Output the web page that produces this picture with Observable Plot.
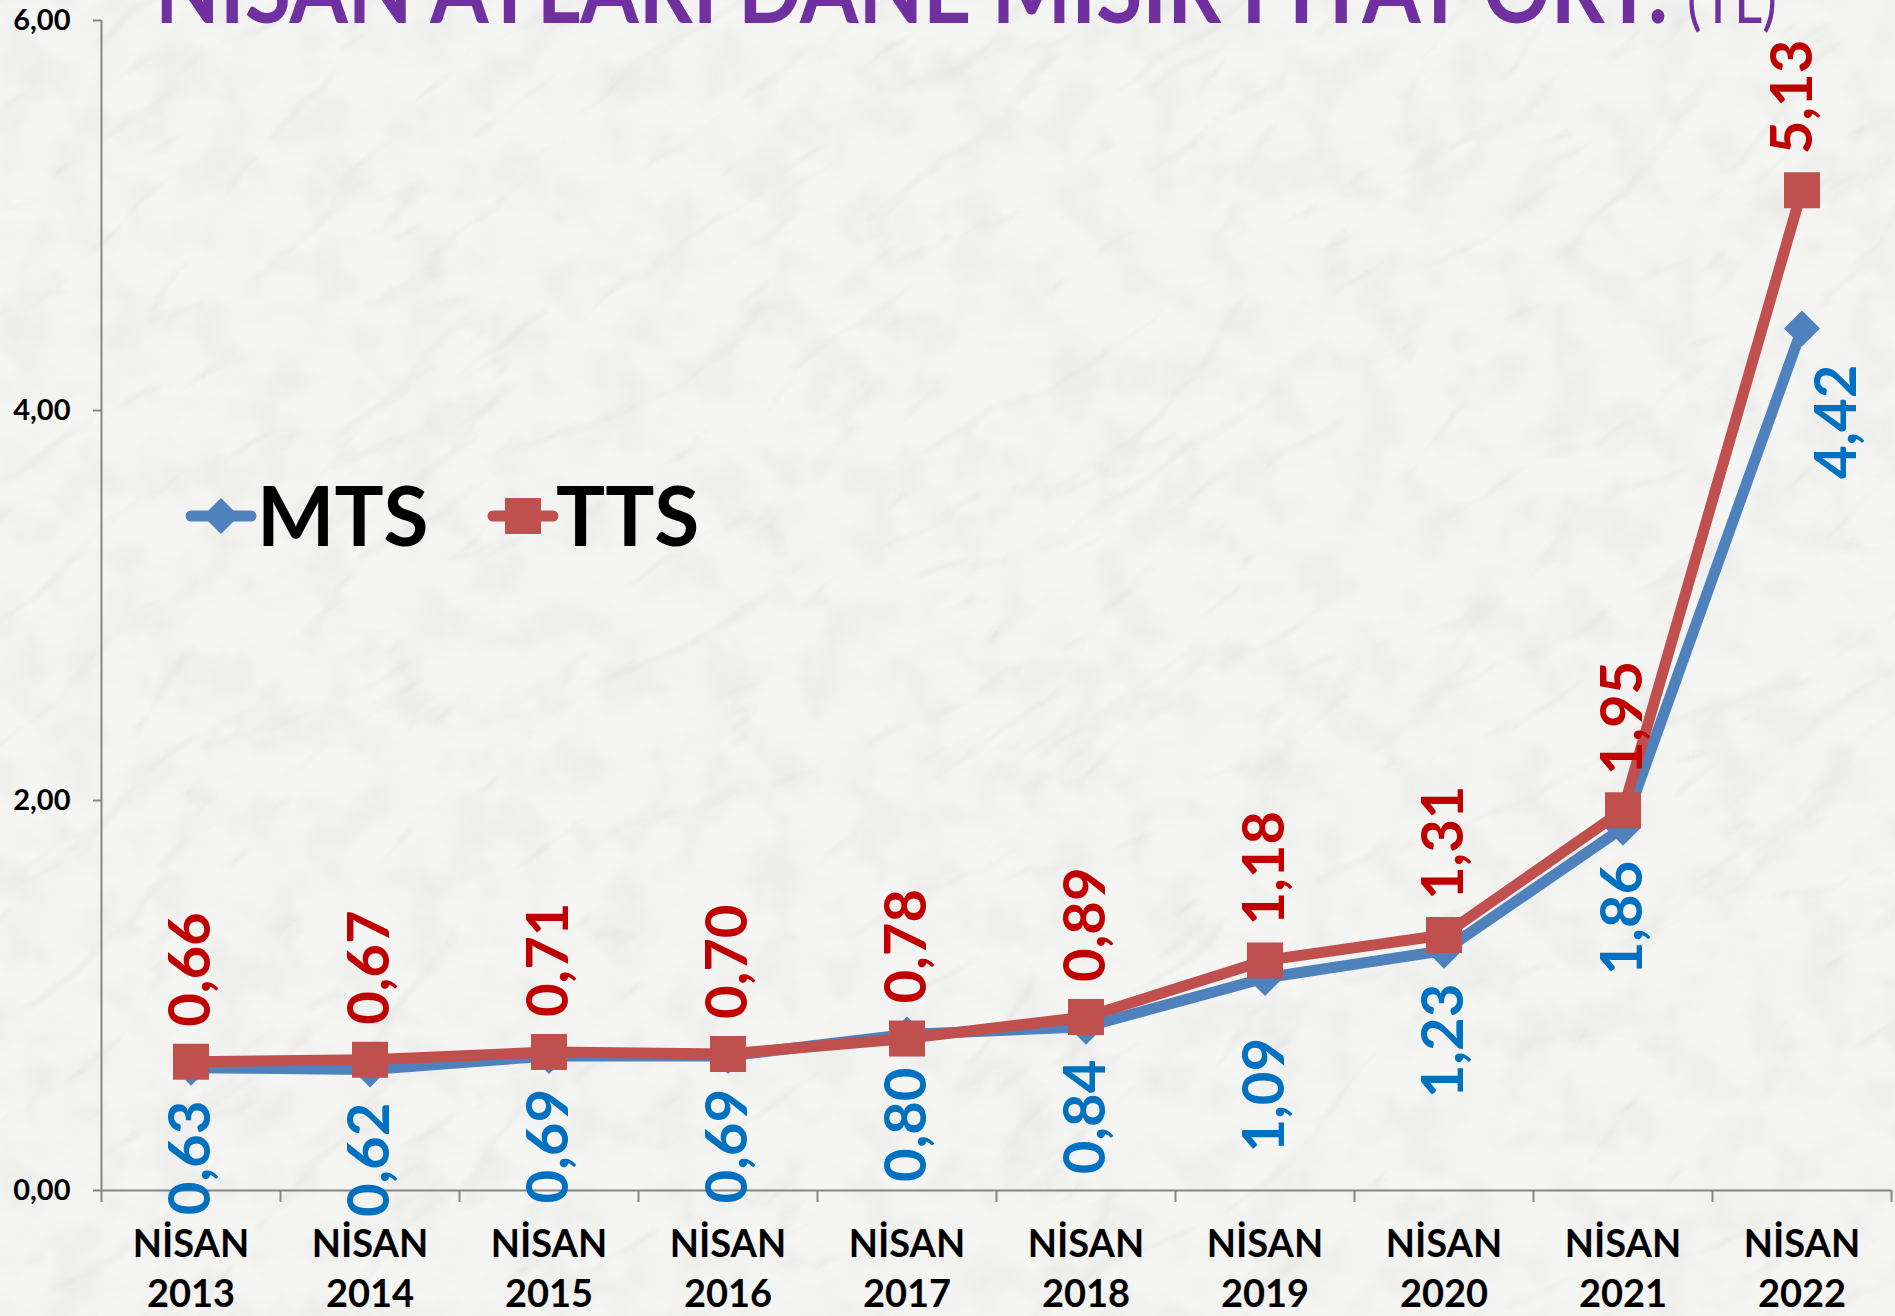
<!DOCTYPE html>
<html>
<head>
<meta charset="utf-8">
<script src="https://cdn.jsdelivr.net/npm/d3@7"></script>
<script src="https://cdn.jsdelivr.net/npm/@observablehq/plot@0.6"></script>
<style>
  html, body { margin: 0; padding: 0; background: #f3f3f2; overflow: hidden; }
  #wrap { position: relative; width: 1895px; height: 1316px; overflow: hidden; font-family: Lato, sans-serif; }
  #wrap > svg, #wrap > div { position: absolute; left: 0; top: 0; }
</style>
</head>
<body>
<div id="wrap">
  <svg id="bg" width="1895" height="1316" xmlns="http://www.w3.org/2000/svg">
    <defs>
      <filter id="marble" x="0" y="0" width="100%" height="100%">
        <feTurbulence type="turbulence" baseFrequency="0.004 0.012" numOctaves="4" seed="11"/>
        <feColorMatrix type="matrix" values="0 0 0 0 0.6  0 0 0 0 0.6  0 0 0 0 0.59  -1.1 0 0 0 0.2"/>
      </filter>
      <filter id="grain" x="0" y="0" width="100%" height="100%">
        <feTurbulence type="fractalNoise" baseFrequency="0.02" numOctaves="3" seed="3"/>
        <feColorMatrix type="matrix" values="0 0 0 0 0.62  0 0 0 0 0.62  0 0 0 0 0.61  0.45 0 0 0 -0.17"/>
      </filter>
    </defs>
    <rect width="1895" height="1316" fill="#f5f5f4"/>
    <rect width="1895" height="1316" filter="url(#grain)"/>
    <g transform="rotate(-35 947 658)">
      <rect x="-700" y="-700" width="3300" height="2700" filter="url(#marble)"/>
    </g>
  </svg>
  <div id="chart"></div>
  <svg id="title" width="1895" height="60" xmlns="http://www.w3.org/2000/svg">
    <text x="155" y="23" fill="#7030A0" font-family="Lato" font-weight="bold" font-size="96"
      textLength="1513" lengthAdjust="spacingAndGlyphs">NİSAN AYLARI DANE MISIR FİYAT ORT.</text>
    <text x="1687" y="23" fill="#7030A0" font-family="Lato" font-weight="normal" font-size="66"
      textLength="90" lengthAdjust="spacingAndGlyphs">(TL)</text>
  </svg>
  <svg id="legend" width="760" height="620" xmlns="http://www.w3.org/2000/svg">
    <line x1="191" y1="516" x2="251" y2="516" stroke="#4F81BD" stroke-width="11" stroke-linecap="round"/>
    <path d="M221,498 L239,516 L221,534 L203,516 Z" fill="#4F81BD"/>
    <text x="257" y="546" font-family="Lato" font-weight="bold" font-size="82" fill="#000">MTS</text>
    <line x1="493" y1="516" x2="553" y2="516" stroke="#C0504D" stroke-width="11" stroke-linecap="round"/>
    <rect x="505" y="498" width="36" height="36" fill="#C0504D"/>
    <text x="556" y="546" font-family="Lato" font-weight="bold" font-size="82" fill="#000">TTS</text>
  </svg>
</div>
<script>
// ---- data ----
const years = ["2013", "2014", "2015", "2016", "2017", "2018", "2019", "2020", "2021", "2022"];
const monthLabel = "NİSAN";
const mts = [0.63, 0.62, 0.69, 0.69, 0.80, 0.84, 1.09, 1.23, 1.86, 4.42];
const tts = [0.66, 0.67, 0.71, 0.70, 0.78, 0.89, 1.18, 1.31, 1.95, 5.13];
const yTicks = [0, 2, 4, 6];

const rows = years.map((y, i) => ({i, year: y, mts: mts[i], tts: tts[i]}));
const fmt = v => v.toFixed(2).replace(".", ",");
const idx = years.map((_, i) => i);
const bounds = years.map((_, i) => i - 0.5).concat([years.length - 0.5]);

const axisGray = "#868686";
const blue = "#4F81BD", red = "#C0504D";
const blueText = "#0070C0", redText = "#C00000";

const labelStyle = {fontSize: 58, fontWeight: "bold", rotate: -90, lineAnchor: "middle", fontFamily: "Lato"};

const chart = Plot.plot({
  width: 1895,
  height: 1316,
  marginLeft: 101,
  marginRight: 4,
  marginTop: 20,
  marginBottom: 126,
  style: {background: "transparent", fontFamily: "Lato", overflow: "visible"},
  x: {type: "linear", domain: [-0.5, years.length - 0.5], label: null},
  y: {domain: [0, 6], label: null},
  marks: [
    Plot.axisY({ticks: yTicks, tickFormat: fmt, tickSize: 8, tickPadding: 23, label: null,
      fontSize: 29, fontWeight: "bold", color: "#000", stroke: axisGray, strokeWidth: 2}),
    Plot.axisX({ticks: bounds, tickFormat: () => "", tickSize: 12, label: null, stroke: axisGray, strokeWidth: 2}),
    Plot.axisX({ticks: idx, tickSize: 0, tickPadding: 31, label: null, tickFormat: i => monthLabel + "\n" + years[i],
      fontSize: 38, fontWeight: "bold", lineHeight: 1.32, color: "#000"}),
    Plot.ruleX([-0.5], {stroke: axisGray, strokeWidth: 2}),
    Plot.ruleY([0], {stroke: axisGray, strokeWidth: 2}),
    Plot.line(rows, {x: "i", y: "mts", stroke: blue, strokeWidth: 11}),
    Plot.dot(rows, {x: "i", y: "mts", symbol: "diamond2", r: 16.2, fill: blue, stroke: "none"}),
    Plot.line(rows, {x: "i", y: "tts", stroke: red, strokeWidth: 11}),
    Plot.dot(rows, {x: "i", y: "tts", symbol: "square", r: 20.3, fill: red, stroke: "none"}),
    // TTS labels (above)
    Plot.text(rows.filter(d => d.i < 9), {x: "i", y: "tts", text: d => fmt(d.tts), textAnchor: "start", dy: -35, fill: redText, ...labelStyle}),
    Plot.text(rows.filter(d => d.i === 9), {x: "i", y: "tts", text: d => fmt(d.tts), textAnchor: "start", dy: -36, dx: -9, fill: redText, ...labelStyle}),
    // MTS labels (below)
    Plot.text(rows.filter(d => d.i !== 6 && d.i !== 9), {x: "i", y: "mts", text: d => fmt(d.mts), textAnchor: "end", dy: 33, fill: blueText, ...labelStyle}),
    Plot.text(rows.filter(d => d.i === 6), {x: "i", y: "mts", text: d => fmt(d.mts), textAnchor: "end", dy: 60, fill: blueText, ...labelStyle}),
    Plot.text(rows.filter(d => d.i === 9), {x: "i", y: "mts", text: d => fmt(d.mts), textAnchor: "end", dy: 36, dx: 35, fill: blueText, ...labelStyle})
  ]
});
document.getElementById("chart").appendChild(chart);
</script>
</body>
</html>
